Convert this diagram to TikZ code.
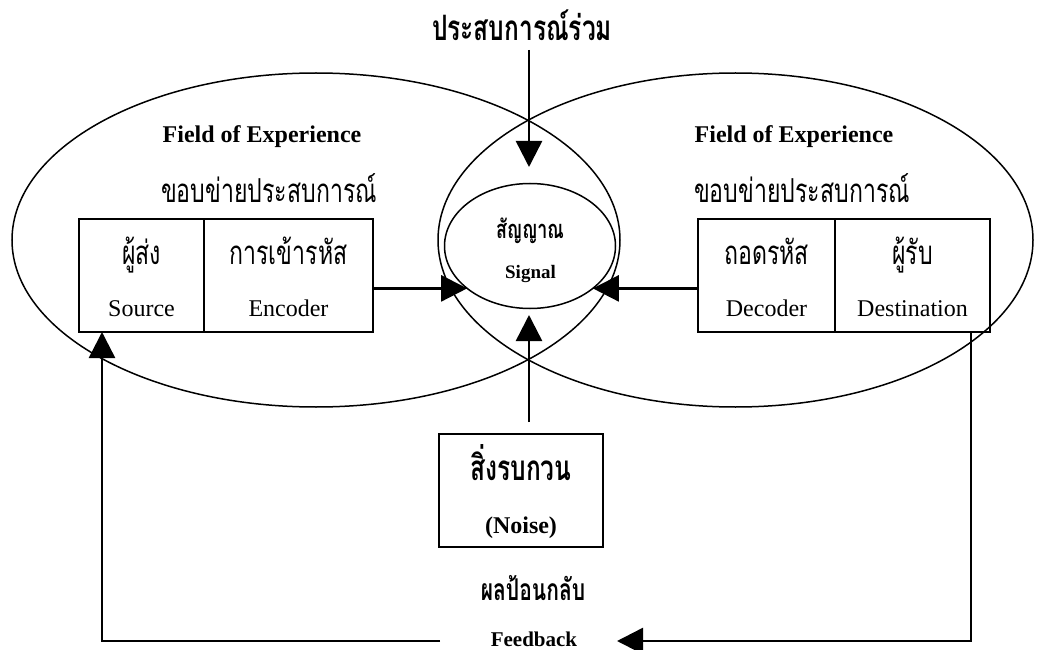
\documentclass[tikz,border=0pt]{standalone}
\usepackage{fontspec}
\setmainfont{Liberation Serif}
\newfontfamily\thai[Script=Thai,FakeStretch=0.7]{Loma}
\usetikzlibrary{arrows.meta,shapes.geometric,calc}
\begin{document}
\begin{tikzpicture}[x=1pt,y=-1pt,
 ell/.style={draw,ellipse,line width=1.5pt,inner sep=0pt,outer sep=0pt},
 box/.style={draw,line width=1.8pt,inner sep=0pt,outer sep=0pt,minimum height=113pt},
 arr/.style={line width=2.5pt,-{Triangle[length=26pt,width=26pt]}},
 lbl/.style={anchor=base,inner sep=0pt},
 en/.style={lbl,font=\fontsize{24}{24}\selectfont},
 enb/.style={lbl,font=\fontsize{24}{24}\selectfont\bfseries},
 th/.style={lbl,font=\thai\fontsize{33}{33}\selectfont},
 thb/.style={lbl,font=\thai\fontsize{35}{35}\selectfont\bfseries},
]
\useasboundingbox (0,0) rectangle (1037,650);
% fields of experience (their overlap forms the shared field)
\node[ell,minimum width=608pt,minimum height=334pt] (lf) at (316,240) {};
\node[ell,minimum width=595pt,minimum height=334pt] (rf) at (735.5,240) {};
\node[ell,minimum width=171pt,minimum height=125pt] (sig) at (530,246) {};
% boxes
\node[box,minimum width=125pt] (src) at (141.5,275.5) {};
\node[box,minimum width=169pt] (enc) at (288.5,275.5) {};
\node[box,minimum width=137pt] (dec) at (766.5,275.5) {};
\node[box,minimum width=155pt] (dst) at (912.5,275.5) {};
\node[box,minimum width=164pt] (noise) at (521,490.5) {};
% texts
\node[thb] (common) at (522,41) {ประสบการณ์ร่วม};
\node[enb] (lft) at (262,143) {Field of Experience};
\node[th] (lfth) at (269,203) {ขอบข่ายประสบการณ์};
\node[enb] (rft) at (794,143) {Field of Experience};
\node[th] (rfth) at (802,203) {ขอบข่ายประสบการณ์};
\node[th] (srcth) at (141.5,265) {ผู้ส่ง};
\node[en] (srcen) at (141.5,316) {Source};
\node[th] (encth) at (288.5,265) {การเข้ารหัส};
\node[en] (encen) at (288.5,316) {Encoder};
\node[th] (decth) at (766.5,265) {ถอดรหัส};
\node[en] (decen) at (766.5,316) {Decoder};
\node[th] (dstth) at (912.5,265) {ผู้รับ};
\node[en] (dsten) at (912.5,316) {Destination};
\node[lbl,font=\thai\fontsize{25.5}{25.5}\selectfont\bfseries] (sigth) at (530,238) {สัญญาณ};
\node[lbl,font=\fontsize{19}{19}\selectfont\bfseries] (sigen) at (530.5,278) {Signal};
\node[thb] (noiseth) at (521,480) {สิ่งรบกวน};
\node[enb] (noiseen) at (521,533) {(Noise)};
\node[lbl,font=\thai\fontsize{30}{30}\selectfont\bfseries] (fbth) at (533,600) {ผลป้อนกลับ};
\node[lbl,font=\fontsize{21}{21}\selectfont\bfseries] (fben) at (534,646) {Feedback};
% coordinates
\coordinate (ctop) at (529,50);
\coordinate (ctip) at (529,167);
\coordinate (ntail) at (529,422);
\coordinate (ntip) at (529,315);
\coordinate (fbr) at (617,641);
\coordinate (fbl) at (440,641);
% connectors
\draw[arr] (ctop) -- (ctip);
\draw[arr] (ntail) -- (ntip);
\draw[arr] (enc.east |- sig.214) -- (sig.214);
\draw[arr] (dec.west |- sig.-34) -- (sig.-34);
\draw[arr] ([xshift=-19pt]dst.south east) |- (fbr);
\draw[arr] (fbl) -| ([xshift=23pt]src.south west);
\end{tikzpicture}
\end{document}
